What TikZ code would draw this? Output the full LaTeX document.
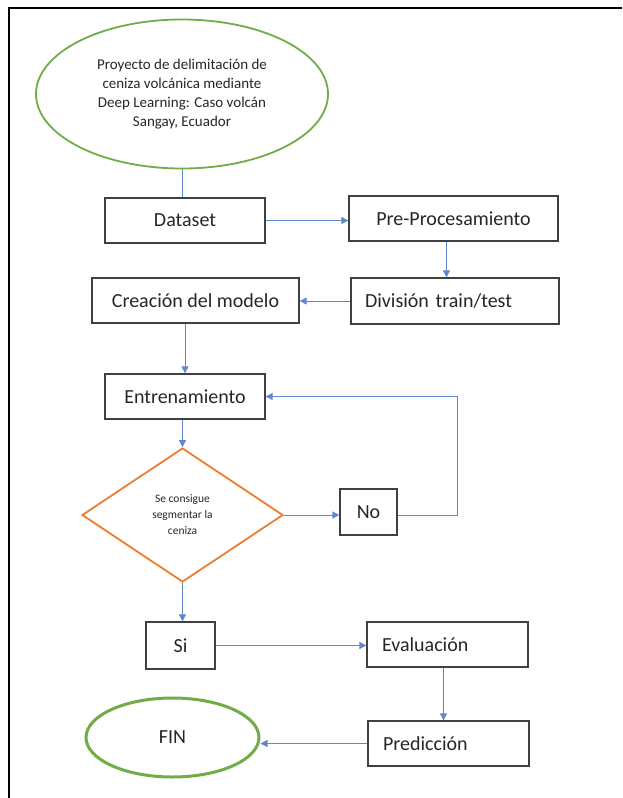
\documentclass[tikz,border=0pt]{standalone}
\usepackage{fontspec}
\setmainfont{Carlito}
\usetikzlibrary{shapes.geometric,arrows.meta}

\definecolor{flowblue}{HTML}{4472C4}
\definecolor{flowgreen}{HTML}{70AD47}
\definecolor{floworange}{HTML}{ED7D31}
\definecolor{boxgray}{HTML}{404040}

\tikzset{
  box/.style={draw=boxgray, line width=1.3pt, rectangle, minimum height=45pt,
    inner sep=0pt, text=black!85, font=\fontsize{20}{24}\selectfont},
  leftbox/.style={box, align=left, inner xsep=15pt},
  startend/.style={draw=flowgreen, ellipse, inner sep=0pt, text=black!85},
  decision/.style={draw=floworange, line width=1.8pt, diamond, inner sep=0pt,
    minimum width=201pt, minimum height=134pt, align=center, text=black!85,
    font=\fontsize{11.5}{16}\selectfont},
  flow/.style={draw=flowblue!85, line width=0.9pt},
  arr/.style={flow, -{Triangle[length=7pt,width=7pt]}}
}

\begin{document}
\begin{tikzpicture}[x=1pt, y=-1pt]
                \useasboundingbox (0,0) rectangle (622,798);
                % Frame:
                \draw[line width=2pt] (9,798) -- (9,8) -- (622,8);
                % Nodes:
                \node[startend, line width=1.8pt, minimum width=292pt, minimum height=149pt, align=center,
                  font=\fontsize{15}{19}\selectfont](proj) at (182,94)
                  {Proyecto de delimitación de\\ceniza volcánica mediante\\Deep Learning: Caso volcán\\Sangay, Ecuador};
                \node[box, minimum width=160pt](dataset) at (185,220.5){Dataset};
                \node[box, minimum width=209pt](pre) at (453.5,218.5){Pre-Procesamiento};
                \node[leftbox, text width=180pt, inner xsep=14pt, minimum height=46pt](div) at (455,301){División train/test};
                \node[box, minimum width=207pt](crea) at (195.5,300.5){Creación del modelo};
                \node[box, minimum width=160pt](entr) at (185,396.5){Entrenamiento};
                \node[decision](dec) at (182.5,515){Se consigue\\segmentar la\\ceniza};
                \node[box, minimum width=57pt, minimum height=46pt](no) at (368.5,512){No};
                \node[box, minimum width=69pt, minimum height=47pt](si) at (180.5,645.5){Si};
                \node[leftbox, text width=131pt](eval) at (447.5,644.5){Evaluación};
                \node[leftbox, text width=131pt](pred) at (448.5,743.5){Predicción};
                \node[startend, line width=3pt, minimum width=173pt, minimum height=79pt,
                  font=\fontsize{20}{24}\selectfont](fin) at (172.5,737.5){FIN\\[4pt]};
                \coordinate (loop) at (457,396.5);
                % Connectors:
                \draw[flow] (proj.south) -- (proj.south |- dataset.north);
                \draw[arr] (dataset.east) -- (dataset.east -| pre.west);
                \draw[arr] ([xshift=-7pt]pre.south) -- ([xshift=-7pt]pre.south |- div.north);
                \draw[arr] (div.west) -- (div.west -| crea.east);
                \draw[arr] (crea.south -| entr.north) -- (entr.north);
                \draw[arr] (entr.south -| dec.north) -- (dec.north);
                \draw[arr] (dec.east) -- (dec.east -| no.west);
                \draw[arr] (dec.east -| no.east) -| (loop) -- (entr.east);
                \draw[arr] (dec.south) -- (dec.south |- si.north);
                \draw[arr] (si.east) -- (si.east -| eval.west);
                \draw[arr] ([xshift=-4pt]eval.south) -- ([xshift=-4pt]eval.south |- pred.north);
                \draw[arr] (pred.west) -- (pred.west -| fin.east);
            \end{tikzpicture}
\end{document}
